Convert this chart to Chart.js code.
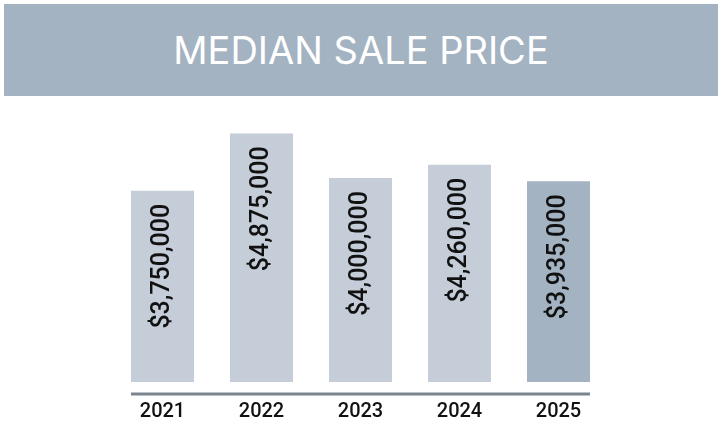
<!DOCTYPE html>
<html>
	<head>
		<title>Median Sale Price</title>
		<script src="https://cdn.jsdelivr.net/npm/chart.js@4.4.0/dist/chart.umd.min.js"></script>
		<style>
			html, body { margin: 0; padding: 0; background: #ffffff; }
			#wrap { position: relative; width: 722px; height: 444px; overflow: hidden; }
			#band {
				position: absolute; left: 4px; top: 4px; width: 714px; height: 92px;
				background: #a3b3c2; color: #ffffff;
				font-family: Inter, "Open Sans", sans-serif; font-size: 38px; font-weight: 400;
				text-align: center; line-height: 92px; letter-spacing: 0px;
			}
			#chart { position: absolute; left: 0; top: 0; }
		</style>
	</head>
	<body>
		<div id="wrap">
			<div id="band">MEDIAN SALE PRICE</div>
			<canvas id="chart" width="722" height="444"></canvas>
		</div>
		<script>
			// data
			const years = ["2021", "2022", "2023", "2024", "2025"];
			const prices = [3750000, 4875000, 4000000, 4260000, 3935000];
			const barColors = ["#c5cdd8", "#c5cdd8", "#c5cdd8", "#c5cdd8", "#a3b3c2"];

			// labels inside the bars, turned upright, plus the short base line
			const barLabels = {
				id: 'barLabels',
				afterDatasetsDraw(chart) {
					const ctx = chart.ctx;
					const meta = chart.getDatasetMeta(0);
					ctx.save();
					ctx.fillStyle = '#111111';
					ctx.font = '500 25px Roboto, sans-serif';
					ctx.textAlign = 'right';
					ctx.textBaseline = 'middle';
					meta.data.forEach(function (bar, i) {
						ctx.save();
						ctx.translate(bar.x, bar.y + 13);
						ctx.rotate(-Math.PI / 2);
						ctx.fillText('$' + prices[i].toLocaleString('en-US'), 0, 0);
						ctx.restore();
					});
					// base line under the bars
					const first = meta.data[0];
					const last = meta.data[meta.data.length - 1];
					const y = chart.chartArea.bottom + 12;
					ctx.strokeStyle = '#7b858f';
					ctx.lineWidth = 3;
					ctx.beginPath();
					ctx.moveTo(first.x - first.width / 2, y);
					ctx.lineTo(last.x + last.width / 2, y);
					ctx.stroke();
					ctx.restore();
				}
			};

			var chart = new Chart(document.getElementById('chart').getContext('2d'), {
				type: 'bar',
				data: {
					labels: years,
					datasets: [{
						data: prices,
						backgroundColor: barColors,
						borderWidth: 0,
						barPercentage: 0.636,
						categoryPercentage: 1
					}]
				},
				options: {
					responsive: false,
					animation: false,
					layout: {
						padding: { left: 113, right: 114, top: 101.5, bottom: 2 }
					},
					plugins: {
						legend: { display: false },
						tooltip: { enabled: false }
					},
					scales: {
						x: {
							grid: { display: false, drawTicks: false },
							border: { display: false },
							ticks: {
								color: '#111111',
								padding: 18,
								font: { family: 'Roboto', size: 20, weight: '500' }
							}
						},
						y: {
							display: false,
							min: 0,
							max: 5500000
						}
					}
				},
				plugins: [barLabels]
			});
		</script>
	</body>
</html>
